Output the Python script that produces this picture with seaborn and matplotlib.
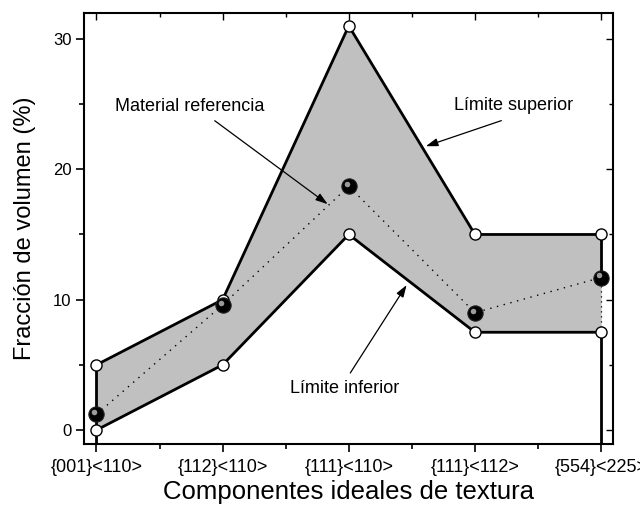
import matplotlib
matplotlib.use("Agg")
import matplotlib.pyplot as plt
import matplotlib.transforms as mtransforms
import seaborn as sns
import pandas as pd

components = ["{001}<110>", "{112}<110>", "{111}<110>", "{111}<112>", "{554}<225>"]
upper = [5, 10, 31, 15, 15]
lower = [0, 5, 15, 7.5, 7.5]
reference = [1.2, 9.6, 18.7, 9.0, 11.7]

y_ticks = [0, 10, 20, 30]

sns.set_theme(style="ticks")
plt.rcParams["font.family"] = ["Liberation Sans", "DejaVu Sans"]
plt.rcParams["text.color"] = "black"
plt.rcParams["axes.labelcolor"] = "black"
plt.rcParams["xtick.color"] = "black"
plt.rcParams["ytick.color"] = "black"

pos = list(range(len(components)))
df = pd.DataFrame({"pos": pos, "upper": upper, "lower": lower, "reference": reference})

fig = plt.figure(figsize=(6.4, 5.13), dpi=100)
ax = fig.add_axes([0.131, 0.1345, 0.827, 0.8405])
ymin, ymax = -1.07, 32
ax.set_xlim(-0.1, 4.095)
ax.set_ylim(ymin, ymax)

# shaded band between limits
ax.fill_between(df["pos"], df["lower"], df["upper"], color="#c0c0c0", lw=0, zorder=1)

# vertical edges of the band
ax.vlines(pos[0], ymin, upper[0], color="black", lw=2, zorder=3)
ax.vlines(pos[-1], ymin, lower[-1], color="black", lw=2, zorder=3)
ax.vlines(pos[-1], reference[-1], upper[-1], color="black", lw=2, zorder=3)
ax.vlines(pos[-1], lower[-1], reference[-1], color="black", lw=0.9,
          linestyles=(0, (1, 3)), zorder=3)

sns.lineplot(data=df, x="pos", y="upper", color="black", lw=2, ax=ax, zorder=3)
sns.lineplot(data=df, x="pos", y="lower", color="black", lw=2, ax=ax, zorder=3)
sns.lineplot(data=df, x="pos", y="reference", color="black", lw=1, ax=ax,
             linestyle=(0, (1, 4)), zorder=3)

for col in ["upper", "lower"]:
    ax.plot(df["pos"], df[col], "o", ms=8, mfc="white", mec="black", mew=1, zorder=5)

ax.plot(df["pos"], df["reference"], "o", ms=11, mfc="black", mec="#202020", mew=0.8, zorder=6)
hl = mtransforms.offset_copy(ax.transData, fig=fig, x=-1.5, y=1.5, units="points")
ax.plot(df["pos"], df["reference"], "o", ms=4, mfc="#9a9a9a", mec="none",
        transform=hl, zorder=7)

arrow = dict(arrowstyle="-|>,head_length=0.6,head_width=0.2", color="black", lw=0.9)
ax.annotate("", xy=(1.85, 17.2), xytext=(0.92, 23.85), arrowprops=arrow, zorder=8)
ax.text(0.74, 24.85, "Material referencia", ha="center", va="center", fontsize=13)
ax.annotate("", xy=(2.59, 21.7), xytext=(3.23, 23.8), arrowprops=arrow, zorder=8)
ax.text(3.305, 24.9, "Límite superior", ha="center", va="center", fontsize=13)
ax.annotate("", xy=(2.47, 11.3), xytext=(2.0, 4.2), arrowprops=arrow, zorder=8)
ax.text(1.97, 3.2, "Límite inferior", ha="center", va="center", fontsize=13)

ax.set_xticks(pos)
ax.set_xticklabels(components, fontsize=13)
ax.set_xticks([p + 0.5 for p in pos[:-1]], minor=True)
ax.set_yticks(y_ticks)
ax.set_yticklabels([str(v) for v in y_ticks], fontsize=12)
ax.set_yticks([5, 15, 25], minor=True)
ax.tick_params(which="both", direction="out", width=1.2, color="black", pad=3)
ax.tick_params(axis="x", pad=5)
ax.tick_params(which="major", length=6)
ax.tick_params(which="minor", length=3.5)
for spine in ax.spines.values():
    spine.set_visible(True)
    spine.set_linewidth(1.5)
    spine.set_color("black")

ax.set_xlabel("Componentes ideales de textura", fontsize=18.5, labelpad=3)
ax.set_ylabel("Fracción de volumen (%)", fontsize=17, labelpad=12)

# top/right ticks point inwards
sec_x = ax.secondary_xaxis("top")
sec_x.set_xticks(pos, labels=[])
sec_x.set_xticks([p + 0.5 for p in pos[:-1]], minor=True)
sec_x.tick_params(which="both", direction="in", width=1)
sec_x.tick_params(which="major", length=5)
sec_x.tick_params(which="minor", length=3)
sec_y = ax.secondary_yaxis("right")
sec_y.set_yticks(y_ticks, labels=[])
sec_y.set_yticks([5, 15, 25], minor=True)
sec_y.tick_params(which="both", direction="in", width=1)
sec_y.tick_params(which="major", length=5)
sec_y.tick_params(which="minor", length=3)

plt.savefig("out.png", dpi=100)
